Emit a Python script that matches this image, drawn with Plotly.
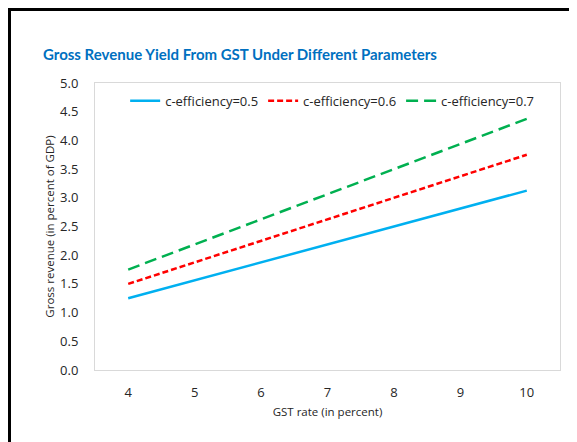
import plotly.graph_objects as go

# GST rate (percent)
gst_rate = [4, 5, 6, 7, 8, 9, 10]

# Gross revenue (percent of GDP) by c-efficiency
rev_05 = [1.25, 1.5625, 1.875, 2.1875, 2.5, 2.8125, 3.125]
rev_06 = [1.5, 1.875, 2.25, 2.625, 3.0, 3.375, 3.75]
rev_07 = [1.75, 2.1875, 2.625, 3.0625, 3.5, 3.9375, 4.375]

series_names = ["c-efficiency=0.5", "c-efficiency=0.6", "c-efficiency=0.7"]
y_ticks = [0.0, 0.5, 1.0, 1.5, 2.0, 2.5, 3.0, 3.5, 4.0, 4.5, 5.0]

FONT = "Open Sans, Noto Sans, sans-serif"

fig = go.Figure()
fig.add_trace(go.Scatter(x=gst_rate, y=rev_05, name=series_names[0], mode="lines",
                         line=dict(color="#00B0F0", width=2.5)))
fig.add_trace(go.Scatter(x=gst_rate, y=rev_06, name=series_names[1], mode="lines",
                         line=dict(color="#FF0000", width=2.5, dash="6px,3px")))
fig.add_trace(go.Scatter(x=gst_rate, y=rev_07, name=series_names[2], mode="lines",
                         line=dict(color="#00B050", width=2.5, dash="12px,6px")))

# outer black frame (top and left edges visible in the picture)
# plot area is 465 x 287 px; keep the frame just inside the figure edge
frame = dict(color="black", width=3)
top = 1 + 73.5 / 287
left = -85.5 / 465
fig.add_shape(type="line", xref="paper", yref="paper", x0=left - 0.004, x1=1.1,
              y0=top, y1=top, line=frame)
fig.add_shape(type="line", xref="paper", yref="paper", x0=left, x1=left,
              y0=top + 0.005, y1=-0.3, line=frame)

# the page body adds an 8px margin, so the figure is 8px smaller than the window
fig.update_layout(
    width=569, height=434,
    margin=dict(l=87, r=17, t=75, b=72, autoexpand=False),
    paper_bgcolor="white", plot_bgcolor="white",
    font=dict(family=FONT, size=13, color="#262626"),
    title=dict(text="<b>Gross Revenue Yield From GST Under Different Parameters</b>",
               x=35 / 569, xanchor="left", y=1 - 47 / 434, yanchor="middle",
               font=dict(family="Lato, sans-serif", size=15, color="#0070C0")),
    showlegend=True,
    legend=dict(orientation="h", x=0.51, xanchor="center", y=0.99, yanchor="top",
                bgcolor="rgba(0,0,0,0)", font=dict(size=13, color="#262626"),
                itemwidth=30, tracegroupgap=0),
    xaxis=dict(range=[3.5, 10.5], tickvals=gst_rate, showgrid=False, zeroline=False,
               showline=True, mirror=True, linecolor="#D9D9D9", linewidth=1,
               ticks="", ticklabelstandoff=10, automargin=False,
               title=dict(text="GST rate (in percent)", font=dict(size=11.5), standoff=8)),
    yaxis=dict(range=[0, 5], tickvals=y_ticks, tickformat=".1f", showgrid=False,
               zeroline=False, showline=True, mirror=True, linecolor="#D9D9D9",
               linewidth=1, ticks="", ticklabelstandoff=13, automargin=False,
               title=dict(text="Gross revenue (in percent of GDP)", font=dict(size=11.5), standoff=3)),
)

fig.write_html("out.html")
